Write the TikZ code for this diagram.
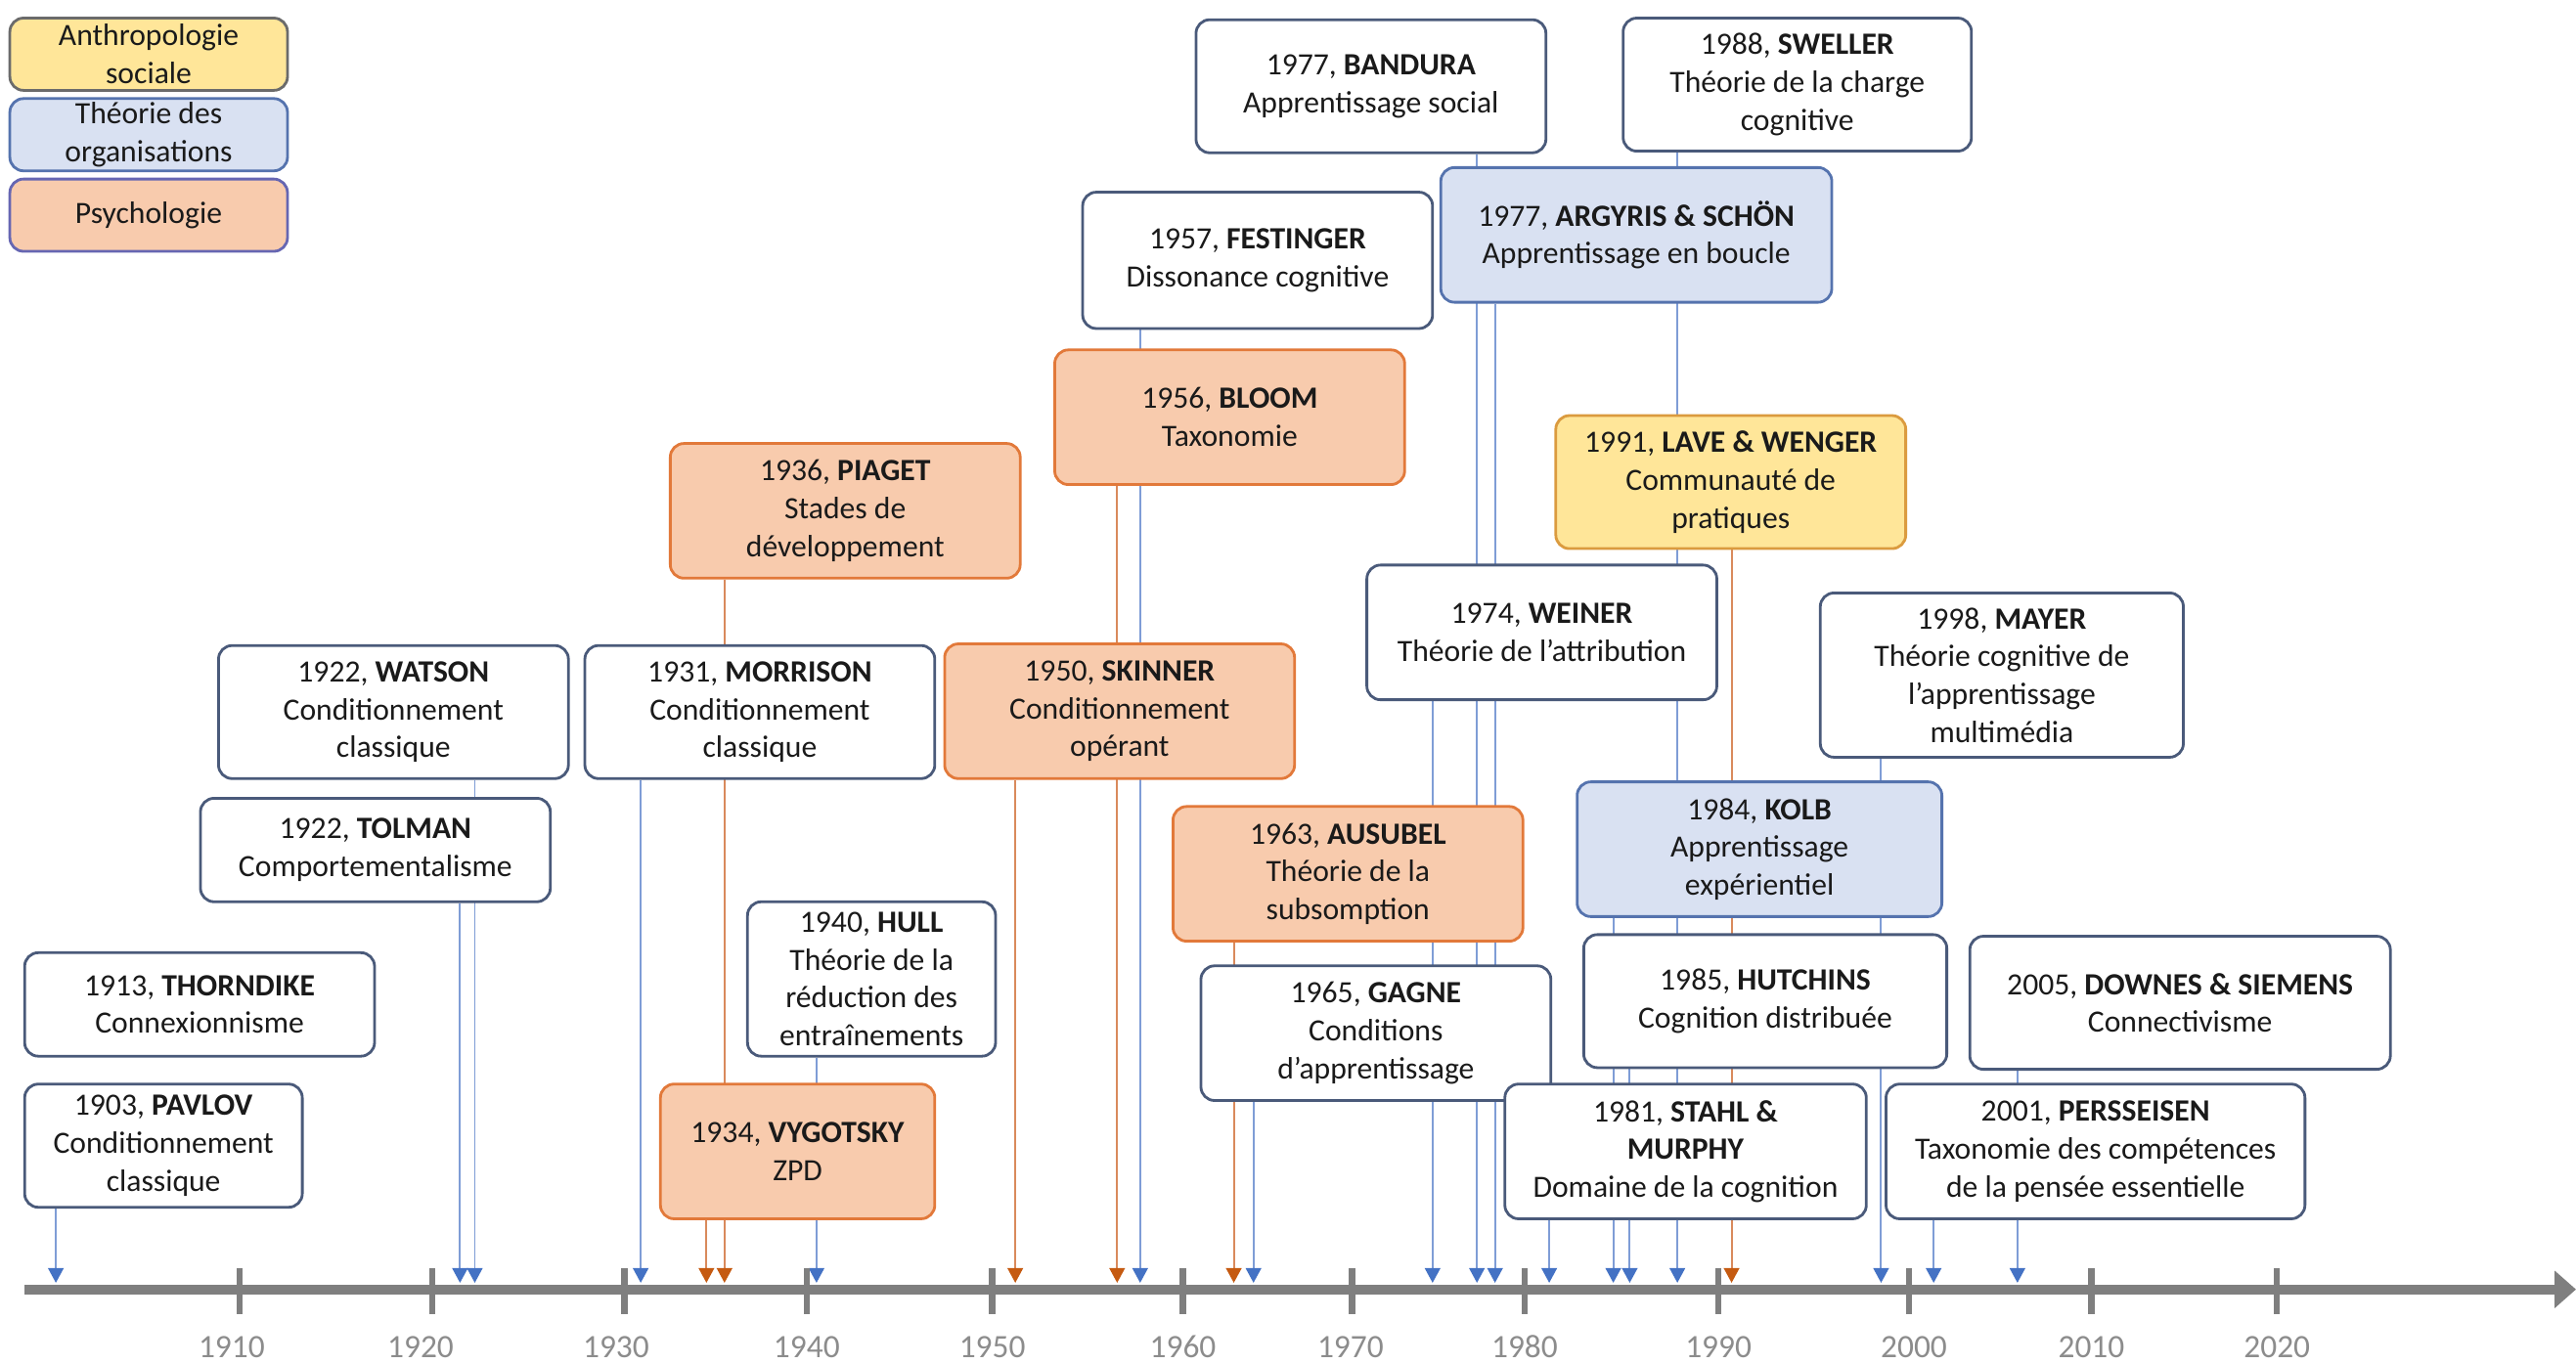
\documentclass[tikz,border=0pt]{standalone}
\usepackage{fontspec}
\setmainfont{Carlito}
\usetikzlibrary{arrows.meta}

\definecolor{txt}{HTML}{1A1A1A}
\definecolor{wBorder}{HTML}{4A5A7A}
\definecolor{oFill}{HTML}{F8CBAD}
\definecolor{oBorder}{HTML}{E2793A}
\definecolor{bFill}{HTML}{D9E1F2}
\definecolor{bBorder}{HTML}{5573AE}
\definecolor{yFill}{HTML}{FFE699}
\definecolor{yBorder}{HTML}{DB9B3F}
\definecolor{blueLine}{HTML}{7F9DD6}
\definecolor{blueHead}{HTML}{4472C4}
\definecolor{orLine}{HTML}{D98A5C}
\definecolor{orHead}{HTML}{C55A11}
\definecolor{axisGray}{HTML}{7F7F7F}
\definecolor{labelGray}{HTML}{8C8C8C}

\pgfdeclarelayer{links}
\pgfsetlayers{links,main}

% box from its left/top/right/bottom edges: name, style, l, t, r, b, text
\newcommand{\tlbox}[7]{%
  \node[#2, minimum width={(#5-#3)*0.0168cm}, minimum height={(#6-#4)*0.0168cm}]
    (#1) at ({(#3+#5)/2},{(#4+#6)/2}) {#7};}

\tikzset{
  card/.style={rounded corners=0.14cm, line width=0.8pt, align=center,
    inner sep=0pt, text=txt, font=\fontsize{9}{11}\selectfont},
  wcard/.style={card, draw=wBorder, fill=white},
  ocard/.style={card, draw=oBorder, fill=oFill},
  bcard/.style={card, draw=bBorder, fill=bFill},
  ycard/.style={card, draw=yBorder, fill=yFill},
  legy/.style={card, draw=black!58, fill=yFill},
  legb/.style={card, draw=bBorder, fill=bFill},
  lego/.style={card, draw=black!50!blue!60, fill=oFill},
  bline/.style={draw=blueLine, line width=0.55pt,
    -{Triangle[length=4.3pt,width=4.5pt,color=blueHead]}},
  oline/.style={draw=orLine, line width=0.55pt,
    -{Triangle[length=4.3pt,width=4.5pt,color=orHead]}},
  axisline/.style={draw=axisGray, line width=2.9pt,
    -{Triangle[length=6.2pt,width=10.5pt]}},
  tickmark/.style={draw=axisGray, line width=1.8pt},
  yearlab/.style={text=labelGray, font=\fontsize{9.5}{11}\selectfont, inner sep=0pt}
}

\begin{document}
\begin{tikzpicture}[x=0.0168cm, y=-0.0168cm]
\useasboundingbox (0,0) rectangle (1568,830);

% legend
\tlbox{legA}{legy}{6}{11}{175}{55}{Anthropologie\\sociale}
\tlbox{legB}{legb}{6}{60}{175}{104}{Théorie des\\organisations}
\tlbox{legC}{lego}{6}{109}{175}{153}{Psychologie}

% event boxes
\tlbox{pavlov}{wcard}{15}{660}{184}{735}{1903, \textbf{PAVLOV}\\Conditionnement\\classique}
\tlbox{thorndike}{wcard}{15}{580}{228}{643}{1913, \textbf{THORNDIKE}\\Connexionnisme}
\tlbox{watson}{wcard}{133}{393}{346}{474}{1922, \textbf{WATSON}\\Conditionnement\\classique}
\tlbox{tolman}{wcard}{122}{486}{335}{549}{1922, \textbf{TOLMAN}\\Comportementalisme}
\tlbox{morrison}{wcard}{356}{393}{569}{474}{1931, \textbf{MORRISON}\\Conditionnement\\classique}
\tlbox{piaget}{ocard}{408}{270}{621}{352}{1936, \textbf{PIAGET}\\Stades de\\développement}
\tlbox{vygotsky}{ocard}{402}{660}{569}{742}{1934, \textbf{VYGOTSKY}\\ZPD}
\tlbox{hull}{wcard}{455}{549}{606}{643}{1940, \textbf{HULL}\\Théorie de la\\réduction des\\entraînements}
\tlbox{skinner}{ocard}{575}{392}{788}{474}{1950, \textbf{SKINNER}\\Conditionnement\\opérant}
\tlbox{bloom}{ocard}{642}{213}{855}{295}{1956, \textbf{BLOOM}\\Taxonomie}
\tlbox{festinger}{wcard}{659}{117}{872}{200}{1957, \textbf{FESTINGER}\\Dissonance cognitive}
\tlbox{ausubel}{ocard}{714}{491}{927}{573}{1963, \textbf{AUSUBEL}\\Théorie de la\\subsomption}
\tlbox{gagne}{wcard}{731}{588}{944}{670}{1965, \textbf{GAGNE}\\Conditions\\d’apprentissage}
\tlbox{bandura}{wcard}{728}{12}{941}{93}{1977, \textbf{BANDURA}\\Apprentissage social}
\tlbox{argyris}{bcard}{877}{102}{1115}{184}{1977, \textbf{ARGYRIS \& SCHÖN}\\Apprentissage en boucle}
\tlbox{sweller}{wcard}{988}{11}{1200}{92}{1988, \textbf{SWELLER}\\Théorie de la charge\\cognitive}
\tlbox{lave}{ycard}{947}{253}{1160}{334}{1991, \textbf{LAVE \& WENGER}\\Communauté de\\pratiques}
\tlbox{weiner}{wcard}{832}{344}{1045}{426}{1974, \textbf{WEINER}\\Théorie de l’attribution}
\tlbox{mayer}{wcard}{1108}{361}{1329}{461}{1998, \textbf{MAYER}\\Théorie cognitive de\\l’apprentissage\\multimédia}
\tlbox{kolb}{bcard}{960}{476}{1182}{558}{1984, \textbf{KOLB}\\Apprentissage\\expérientiel}
\tlbox{hutchins}{wcard}{964}{569}{1185}{650}{1985, \textbf{HUTCHINS}\\Cognition distribuée}
\tlbox{downes}{wcard}{1199}{570}{1455}{651}{2005, \textbf{DOWNES \& SIEMENS}\\Connectivisme}
\tlbox{stahl}{wcard}{916}{660}{1136}{742}{1981, \textbf{STAHL \&}\\\textbf{MURPHY}\\Domaine de la cognition}
\tlbox{persseisen}{wcard}{1148}{660}{1403}{742}{2001, \textbf{PERSSEISEN}\\Taxonomie des compétences\\de la pensée essentielle}

% points where each event meets the time axis
\coordinate (pPavlov) at (34,781);
\coordinate (pTolman) at (280,781);
\coordinate (pWatson) at (289,781);
\coordinate (pMorrison) at (390,781);
\coordinate (pVygotsky) at (430,781);
\coordinate (pPiaget) at (441,781);
\coordinate (pHull) at (497,781);
\coordinate (pSkinner) at (618,781);
\coordinate (pBloom) at (680,781);
\coordinate (pFestinger) at (694,781);
\coordinate (pAusubel) at (751,781);
\coordinate (pGagne) at (763,781);
\coordinate (pWeiner) at (872,781);
\coordinate (pBandura) at (899,781);
\coordinate (pArgyris) at (910,781);
\coordinate (pStahl) at (943,781);
\coordinate (pKolb) at (982,781);
\coordinate (pHutchins) at (992,781);
\coordinate (pSweller) at (1021,781);
\coordinate (pLave) at (1054,781);
\coordinate (pMayer) at (1145,781);
\coordinate (pPersseisen) at (1177,781);
\coordinate (pDownes) at (1228,781);

% drop lines, drawn beneath the boxes
\begin{pgfonlayer}{links}
\draw[bline] (pavlov.south -| pPavlov) -- (pPavlov);
\draw[bline] (tolman.south -| pTolman) -- (pTolman);
\draw[bline] (watson.south -| pWatson) -- (pWatson);
\draw[bline] (morrison.south -| pMorrison) -- (pMorrison);
\draw[oline] (vygotsky.south -| pVygotsky) -- (pVygotsky);
\draw[oline] (piaget.south -| pPiaget) -- (pPiaget);
\draw[bline] (hull.south -| pHull) -- (pHull);
\draw[oline] (skinner.south -| pSkinner) -- (pSkinner);
\draw[oline] (bloom.south -| pBloom) -- (pBloom);
\draw[bline] (festinger.south -| pFestinger) -- (pFestinger);
\draw[oline] (ausubel.south -| pAusubel) -- (pAusubel);
\draw[bline] (gagne.south -| pGagne) -- (pGagne);
\draw[bline] (weiner.south -| pWeiner) -- (pWeiner);
\draw[bline] (bandura.south -| pBandura) -- (pBandura);
\draw[bline] (argyris.south -| pArgyris) -- (pArgyris);
\draw[bline] (stahl.south -| pStahl) -- (pStahl);
\draw[bline] (kolb.south -| pKolb) -- (pKolb);
\draw[bline] (hutchins.south -| pHutchins) -- (pHutchins);
\draw[bline] (sweller.south -| pSweller) -- (pSweller);
\draw[oline] (lave.south -| pLave) -- (pLave);
\draw[bline] (mayer.south -| pMayer) -- (pMayer);
\draw[bline] (persseisen.south -| pPersseisen) -- (pPersseisen);
\draw[bline] (downes.south -| pDownes) -- (pDownes);
\end{pgfonlayer}

% time axis
\coordinate (axStart) at (15,785);
\coordinate (axEnd) at (1568,785);
\draw[axisline] (axStart) -- (axEnd);
\foreach \tx/\lx/\yr in {146/141/1910, 263/256/1920, 380/375/1930, 491/491/1940,
    604/604/1950, 720/720/1960, 823/822/1970, 928/928/1980, 1046/1046/1990,
    1162/1165/2000, 1273/1273/2010, 1386/1386/2020}{
  \draw[tickmark] (\tx,772) -- (\tx,800);
  \node[yearlab] (yr\yr) at (\lx,820) {\yr};
}
\end{tikzpicture}
\end{document}
